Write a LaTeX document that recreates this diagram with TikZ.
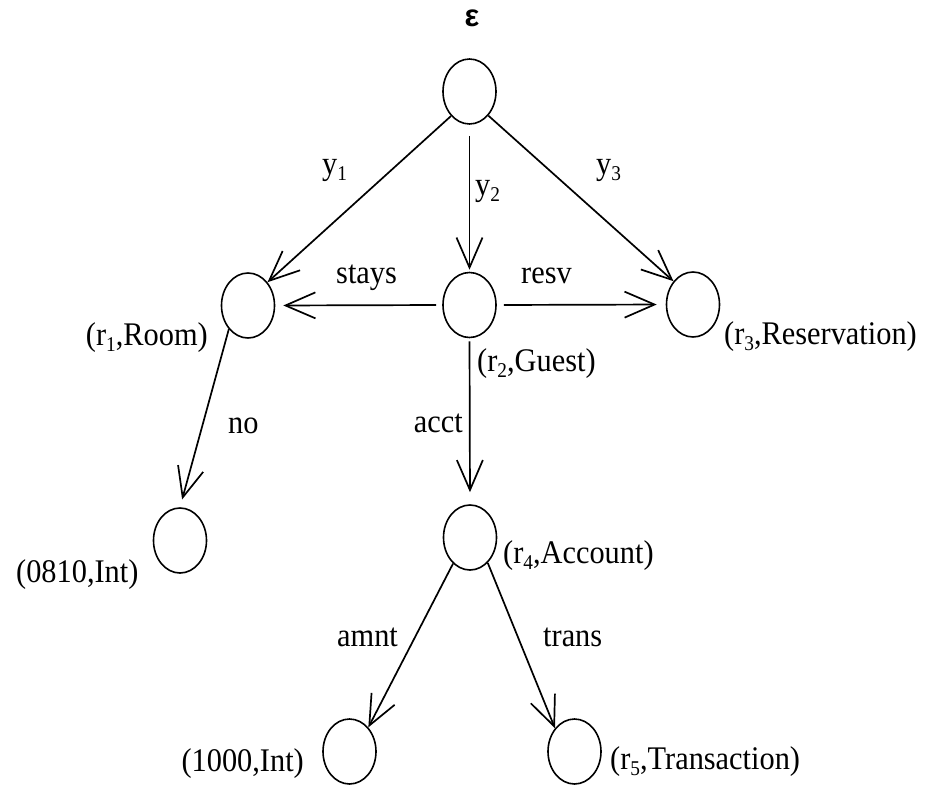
\documentclass[tikz,border=0pt]{standalone}
\usepackage{fontspec}
\setmainfont{Liberation Serif}
\newfontfamily\labfont[FakeStretch=0.92]{Liberation Serif}
\newfontfamily\epsfont{Liberation Sans}
\usetikzlibrary{shapes.geometric,arrows.meta}
\newcommand\sbx[1]{\raisebox{-0.2em}{\fontsize{21}{21}\selectfont #1}}
\tikzset{
  vert/.style={ellipse,draw,line width=1.6pt,minimum width=53pt,minimum height=65pt,inner sep=0pt},
  lab/.style={inner sep=0pt,font=\labfont\fontsize{33}{38}\selectfont},
  edge/.style={line width=1.7pt,-{Straight Barb[length=30pt,width=26pt]}},
}
\begin{document}
\begin{tikzpicture}[x=1pt,y=-1pt]
\useasboundingbox (0,0) rectangle (931,784);
% vertices
\node[vert] (root) at (469.5,91.5) {};
\node[vert] (r1) at (248,305.5) {};
\node[vert] (r2) at (469.5,305) {};
\node[vert] (r3) at (693,304.5) {};
\node[vert] (n0810) at (180,540.5) {};
\node[vert] (r4) at (470,537.5) {};
\node[vert] (n1000) at (349.5,751.5) {};
\node[vert] (r5) at (574.5,751.5) {};
% edges
\draw[edge] (root.233) -- (r1.50);
\draw[edge,shorten <=11pt,shorten >=2pt] (root.south) -- (r2.north);
\draw[edge] (root.308) -- (r3.130);
\draw[edge,shorten <=6pt,shorten >=8pt] (r2.west) -- (r1.east);
\draw[edge,shorten <=7pt,shorten >=9pt] (r2.east) -- (r3.west);
\draw[edge,shorten >=8pt] (r1.231) -- (n0810.north);
\draw[edge,shorten <=3pt,shorten >=12pt] (r2.south) -- (r4.north);
\draw[edge] (r4.237) -- (n1000.52);
\draw[edge] (r4.305) -- (r5.130);
% labels
\node[inner sep=0pt,font=\epsfont\bfseries\fontsize{31}{36}\selectfont] (eps) at (472,18) {ε};
\node[lab,anchor=base west] (ly1) at (322,174) {y\sbx{1}};
\node[lab,anchor=base west] (ly2) at (475,195) {y\sbx{2}};
\node[lab,anchor=base west] (ly3) at (596,174) {y\sbx{3}};
\node[lab,anchor=base west] (lstays) at (336,283) {stays};
\node[lab,anchor=base west] (lresv) at (521,283) {resv};
\node[lab,anchor=base west] (lno) at (228,433) {no};
\node[lab,anchor=base east] (lacct) at (463,432) {acct};
\node[lab,anchor=base west] (lamnt) at (337,646) {amnt};
\node[lab,anchor=base west] (ltrans) at (543,646) {trans};
\node[lab,anchor=base east] (tr1) at (208,345) {(r\sbx{1},Room)};
\node[lab,anchor=base west] (tr2) at (477,371) {(r\sbx{2},Guest)};
\node[lab,anchor=base west] (tr3) at (724,344) {(r\sbx{3},Reservation)};
\node[lab,anchor=base west] (t0810) at (16,582) {(0810,Int)};
\node[lab,anchor=base west] (tr4) at (503,563) {(r\sbx{4},Account)};
\node[lab,anchor=base east] (t1000) at (304,771) {(1000,Int)};
\node[lab,anchor=base west] (tr5) at (610,769) {(r\sbx{5},Transaction)};
\end{tikzpicture}
\end{document}
